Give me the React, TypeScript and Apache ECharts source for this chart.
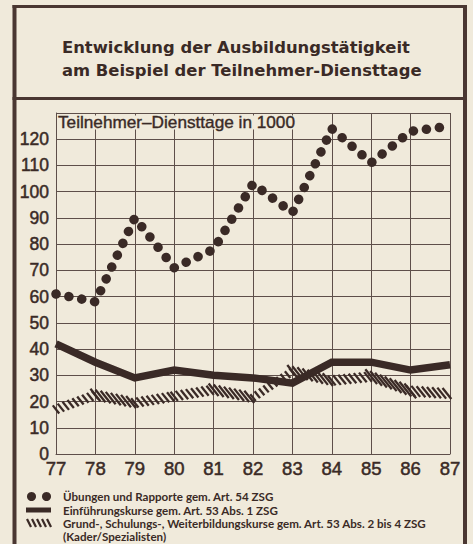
import React, { useEffect, useRef } from "react";
import * as echarts from "echarts";

const years = ["77", "78", "79", "80", "81", "82", "83", "84", "85", "86", "87"];
const uebungen = [61, 58, 90, 71, 78, 103, 92, 124, 111, 123, 125];
const einfuehrung = [42, 35, 29, 32, 30, 29, 27, 35, 35, 32, 34];
const grundkurse = [17, 22.5, 19.5, 22, 24.5, 21.5, 31.5, 28, 29.5, 24, 23];

const titleLines = [
  "Entwicklung der Ausbildungstätigkeit",
  "am Beispiel der Teilnehmer-Diensttage",
];
const axisTitle = "Teilnehmer–Diensttage in 1000";
const legendLabels = [
  "Übungen und Rapporte gem. Art. 54 ZSG",
  "Einführungskurse gem. Art. 53 Abs. 1 ZSG",
  "Grund-, Schulungs-, Weiterbildungskurse gem. Art. 53 Abs. 2 bis 4 ZSG",
  "(Kader/Spezialisten)",
];

const BG = "#f0eadb";
const INK = "#3a2a26";
const GRID = "#5e4f4a";
const FRAME = "#4a3732";
const TITLE_FONT = "'DejaVu Sans', sans-serif";
const LEGEND_FONT = "Lato, 'Noto Sans', sans-serif";
const AXIS_FONT = "'Liberation Sans', Arial, sans-serif";

export default function App() {
  const ref = useRef<HTMLDivElement>(null);

  useEffect(() => {
    if (!ref.current) return;
    const chart = echarts.init(ref.current, undefined, { renderer: "svg" });

    const hatchItem = (params: any, api: any) => {
      const i = params.dataIndex;
      if (i === 0) return null;
      const p0 = api.coord([i - 1, grundkurse[i - 1]]);
      const p1 = api.coord([i, grundkurse[i]]);
      const dx = p1[0] - p0[0];
      const dy = p1[1] - p0[1];
      const len = Math.sqrt(dx * dx + dy * dy);
      const m = dy / dx;
      const sx = 0.8;
      const sy = 1;
      const coef = Math.abs(sy - m * sx);
      const u = Math.min(5.2 / Math.max(coef, 0.01), 9);
      const step = 5.2;
      const children: any[] = [];
      for (let t = 0; t < len; t += step) {
        const px = p0[0] + (dx * t) / len;
        const py = p0[1] + (dy * t) / len;
        children.push({
          type: "line",
          shape: { x1: px - sx * u, y1: py - sy * u, x2: px + sx * u, y2: py + sy * u },
          style: { stroke: INK, lineWidth: 2.3, lineCap: "butt" },
        });
      }
      return { type: "group", children };
    };

    const legendY = [496.5, 510, 523, 536];
    const hatchIcon: any[] = [];
    for (let k = 0; k < 5; k++) {
      const x = 27 + k * 5;
      hatchIcon.push({
        type: "line",
        shape: { x1: x, y1: 519, x2: x + 4, y2: 527 },
        style: { stroke: INK, lineWidth: 2.2 },
        z: 100,
      });
    }

    const option: any = {
      animation: false,
      backgroundColor: BG,
      grid: { left: 56, right: 23, top: 113, bottom: 90, containLabel: false },
      xAxis: {
        type: "category",
        data: years,
        boundaryGap: false,
        axisLine: { show: true, lineStyle: { color: GRID, width: 1 } },
        axisTick: { show: false },
        splitLine: { show: true, lineStyle: { color: GRID, width: 1 } },
        axisLabel: {
          color: INK,
          fontSize: 18.5,
          lineHeight: 15,
          fontFamily: AXIS_FONT,
          textBorderColor: INK,
          textBorderWidth: 0.5,
          margin: 7,
        },
      },
      yAxis: {
        type: "value",
        min: 0,
        max: 130,
        interval: 10,
        axisLine: { show: true, lineStyle: { color: GRID, width: 1 } },
        axisTick: { show: false },
        splitLine: { show: true, lineStyle: { color: GRID, width: 1 } },
        axisLabel: {
          color: INK,
          fontSize: 17.5,
          lineHeight: 11,
          fontFamily: AXIS_FONT,
          textBorderColor: INK,
          textBorderWidth: 0.5,
          margin: 7,
          padding: [0, 0, 5, 0],
          formatter: (v: number) => (v >= 130 ? "" : String(v)),
        },
      },
      series: [
        {
          name: legendLabels[0],
          type: "line",
          data: uebungen,
          symbol: "none",
          lineStyle: { color: INK, width: 9.5, type: [0.1, 13], cap: "round" },
          z: 5,
        },
        {
          name: legendLabels[1],
          type: "line",
          data: einfuehrung,
          symbol: "none",
          lineStyle: { color: INK, width: 7.5, cap: "butt", join: "miter" },
          z: 4,
        },
        {
          name: legendLabels[2],
          type: "custom",
          data: grundkurse.map((v, i) => [i, v]),
          encode: { x: 0, y: 1 },
          renderItem: hatchItem,
          z: 6,
        },
      ],
      graphic: [
        // frame
        { type: "line", shape: { x1: 14.5, y1: 5, x2: 14.5, y2: 544 }, style: { stroke: FRAME, lineWidth: 4 }, z: 100 },
        { type: "line", shape: { x1: 465, y1: 5, x2: 465, y2: 544 }, style: { stroke: FRAME, lineWidth: 4 }, z: 100 },
        { type: "line", shape: { x1: 12.5, y1: 6.5, x2: 467, y2: 6.5 }, style: { stroke: FRAME, lineWidth: 3 }, z: 100 },
        { type: "line", shape: { x1: 12.5, y1: 98.5, x2: 467, y2: 98.5 }, style: { stroke: FRAME, lineWidth: 3 }, z: 100 },
        // title
        {
          type: "text",
          x: 62,
          y: 47,
          style: { text: titleLines[0], fill: INK, font: `bold 16.4px ${TITLE_FONT}`, verticalAlign: "middle" },
          z: 100,
        },
        {
          type: "text",
          x: 62,
          y: 70,
          style: { text: titleLines[1], fill: INK, font: `bold 16.4px ${TITLE_FONT}`, verticalAlign: "middle" },
          z: 100,
        },
        // axis title box
        {
          type: "rect",
          shape: { x: 57, y: 115.5, width: 250, height: 14 },
          style: { fill: BG },
          z: 50,
        },
        {
          type: "text",
          x: 58,
          y: 122,
          style: {
            text: axisTitle,
            fill: INK,
            stroke: INK,
            lineWidth: 0.4,
            font: `17.2px ${AXIS_FONT}`,
            verticalAlign: "middle",
            align: "left",
          },
          z: 51,
        },
        // legend icons
        { type: "circle", shape: { cx: 31.5, cy: legendY[0], r: 4.5 }, style: { fill: INK }, z: 100 },
        { type: "circle", shape: { cx: 46.5, cy: legendY[0], r: 4.5 }, style: { fill: INK }, z: 100 },
        { type: "rect", shape: { x: 26, y: legendY[1] - 2.5, width: 25, height: 5 }, style: { fill: INK }, z: 100 },
        ...hatchIcon,
        // legend texts
        ...legendLabels.map((t, k) => ({
          type: "text",
          x: 63,
          y: legendY[k],
          style: {
            text: t,
            fill: INK,
            font: `bold 11.6px ${LEGEND_FONT}`,
            verticalAlign: "middle",
            align: "left",
          },
          z: 100,
        })),
      ],
    };

    chart.setOption(option);
    return () => chart.dispose();
  }, []);

  return (
    <div
      ref={ref}
      style={{ position: "fixed", left: 0, top: 0, width: 473, height: 544 }}
    />
  );
}
